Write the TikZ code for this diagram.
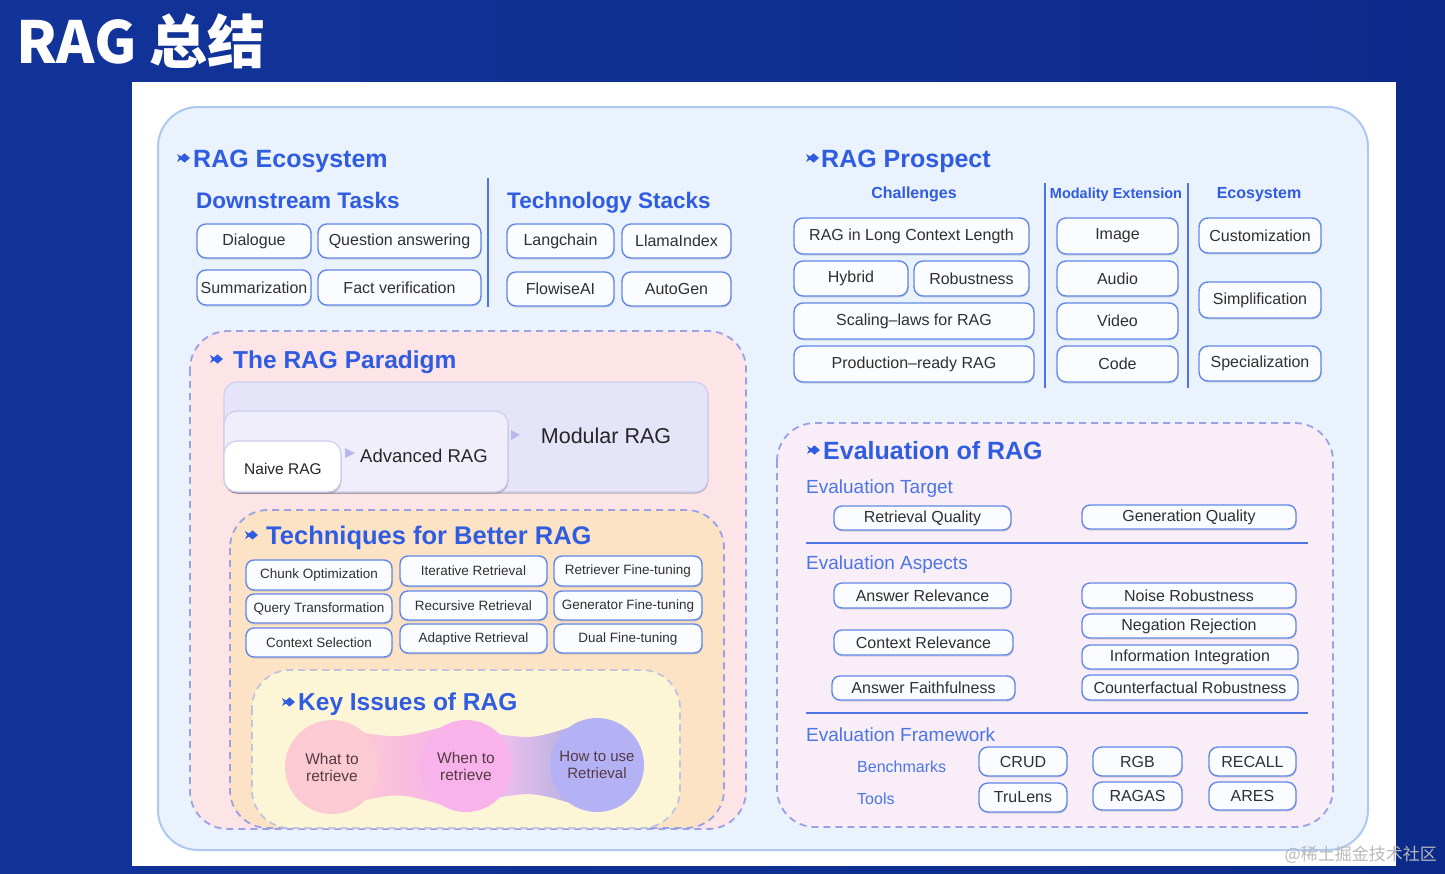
\documentclass[tikz,border=0pt]{standalone}
\usepackage{fontspec}
\setmainfont{Liberation Sans}
\newfontfamily\cjk{Noto Sans CJK SC}
\usetikzlibrary{shadows,calc}
\definecolor{bgA}{HTML}{12349A}
\definecolor{bgB}{HTML}{0C2A8A}
\definecolor{hcol}{HTML}{2F5CE0}
\definecolor{scol}{HTML}{4A76E6}
\definecolor{bxd}{HTML}{6388E6}
\definecolor{bxf}{HTML}{FAFCFF}
\definecolor{txt}{HTML}{303030}
\definecolor{ecof}{HTML}{E9F2FD}
\definecolor{ecod}{HTML}{AEC8F1}
\definecolor{dashd}{HTML}{98A2E4}
\definecolor{pinkf}{HTML}{FDE4E7}
\definecolor{peachf}{HTML}{FCE3C5}
\definecolor{yelf}{HTML}{FCF6D6}
\definecolor{evalf}{HTML}{F9EDF8}
\definecolor{modf}{HTML}{E5E4F8}
\definecolor{advf}{HTML}{EFEEFA}
\definecolor{parD}{HTML}{CDCDF0}
\definecolor{triC}{HTML}{B9B8EA}
\definecolor{cA}{HTML}{FCCAD2}
\definecolor{cB}{HTML}{F7B3EA}
\definecolor{cC}{HTML}{B4B2F4}
\definecolor{ctx}{HTML}{553A45}
\definecolor{vline}{HTML}{4C74E2}
\pgfdeclarelayer{mid}
\pgfdeclarelayer{front}
\pgfsetlayers{main,mid,front}
\newcommand\bxx[7][]{%
  \pgfmathsetmacro\bw{#5-#3}\pgfmathsetmacro\bh{#6-#4}%
  \node[bx,#1,minimum width=\bw pt,minimum height=\bh pt] (#2) at ({(#3+#5)/2},{(#4+#6)/2}) {#7};}
\begin{document}
\begin{tikzpicture}[x=1pt,y=-1pt,
  bx/.style={draw=bxd, line width=1.4pt, fill=bxf, rounded corners=9pt, inner sep=1pt, text=txt,
    font=\fontsize{16}{18}\selectfont,
    drop shadow={shadow xshift=0.6pt,shadow yshift=-1.6pt,opacity=0.18,fill=black!70}},
  tb/.style={font=\fontsize{13.5}{15}\selectfont, rounded corners=8pt},
  eb/.style={rounded corners=8pt},
  pbox/.style={draw=parD, line width=1.2pt, rounded corners=13pt, text=txt,
    drop shadow={shadow xshift=0.6pt,shadow yshift=-1.8pt,opacity=0.15,fill=black!70}},
  hd/.style={anchor=base west, text=hcol, font=\bfseries\fontsize{25}{28}\selectfont, inner sep=0pt},
  sub/.style={anchor=base west, text=hcol, font=\bfseries\fontsize{22.5}{25}\selectfont, inner sep=0pt},
  esub/.style={anchor=base west, text=scol, font=\fontsize{19}{22}\selectfont, inner sep=0pt},
  csub/.style={anchor=base, text=hcol, font=\bfseries\fontsize{16}{18}\selectfont, inner sep=0pt},
  dbox/.style={draw=dashd, line width=1.8pt, dash pattern=on 7pt off 5pt, rounded corners=38pt},
  vdiv/.style={draw=vline, line width=2pt},
  sep/.style={draw=vline, line width=2.4pt},
  hmark/.pic={\fill[hcol] (0,-4) -- (4,-1.6) -- (7.5,-4.6) -- (13,0) -- (7.5,4.6) -- (4,1.6) -- (0,4) -- (2,0) -- cycle;},
  ctext/.style={align=center, text=ctx, font=\fontsize{15.5}{17}\selectfont, inner sep=0pt}
]
\useasboundingbox (0,0) rectangle (1445,873);
% background
\shade[left color=bgA, right color=bgB] (0,0) rectangle (1445,873);
\node[anchor=base west, font=\cjk\bfseries\fontsize{58}{58}\selectfont, text=white, inner sep=0pt] (title) at (16,63) {RAG 总结};
\fill[white] (132,82) rectangle (1396,866);
% outer ecosystem box
\draw[draw=ecod, fill=ecof, line width=2pt, rounded corners=40pt] (158,107) rectangle (1368,850);

% ---------------- RAG Ecosystem
\pic at (177,158) {hmark};
\node[hd] (ecoh) at (193,167) {RAG Ecosystem};
\node[sub] (dsh) at (196,208) {Downstream Tasks};
\node[sub] (tsh) at (507,208) {Technology Stacks};
\draw[vdiv] (488,178) -- (488,307);
\bxx{dlg}{197}{224}{311}{258}{Dialogue}
\bxx{qa}{318}{224}{481}{258}{Question answering}
\bxx{summ}{197}{270}{311}{305}{Summarization}
\bxx{fact}{318}{270}{481}{305}{Fact verification}
\bxx{lang}{507}{224}{614}{258}{Langchain}
\bxx{llama}{622}{224}{731}{258}{LlamaIndex}
\bxx{flow}{507}{272}{614}{306}{FlowiseAI}
\bxx{autog}{622}{272}{731}{306}{AutoGen}

% ---------------- RAG Prospect
\pic at (806,158) {hmark};
\node[hd] (proh) at (821,167) {RAG Prospect};
\node[csub] (chal) at (914,198) {Challenges};
\node[csub, font=\bfseries\fontsize{14.5}{16}\selectfont] (modx) at (1116,198) {Modality Extension};
\node[csub] (ecs) at (1259,198) {Ecosystem};
\draw[vdiv] (1045,183) -- (1045,388);
\draw[vdiv] (1188,183) -- (1188,388);
\bxx{longc}{794}{218}{1029}{254}{RAG in Long Context Length}
\bxx{hyb}{794}{261}{908}{296}{Hybrid}
\bxx{robu}{914}{261}{1029}{296}{Robustness}
\bxx{scal}{794}{303}{1034}{339}{Scaling–laws for RAG}
\bxx{prod}{794}{346}{1034}{382}{Production–ready RAG}
\bxx{img}{1057}{218}{1178}{254}{Image}
\bxx{aud}{1057}{261}{1178}{296}{Audio}
\bxx{vid}{1057}{303}{1178}{339}{Video}
\bxx{code}{1057}{346}{1178}{382}{Code}
\bxx{cust}{1199}{218}{1321}{253}{Customization}
\bxx{simp}{1199}{282}{1321}{318}{Simplification}
\bxx{spec}{1199}{346}{1321}{381}{Specialization}

% ---------------- The RAG Paradigm
\draw[dbox, fill=pinkf] (190,331) rectangle (746,829);
\pic at (210,359) {hmark};
\node[hd, font=\bfseries\fontsize{24.5}{28}\selectfont] (parh) at (233,368) {The RAG Paradigm};
\bxx[pbox, fill=modf]{modb}{224}{382}{708}{492}{}
\bxx[pbox, fill=advf]{advb}{224}{411}{508}{492}{}
\bxx[pbox, fill=white]{naib}{224}{441}{341}{492}{}
\node[anchor=base, text=black!85, font=\fontsize{21.5}{24}\selectfont, inner sep=0pt] (modt) at (606,443) {Modular RAG};
\node[anchor=base, text=black!85, font=\fontsize{18.5}{21}\selectfont, inner sep=0pt] (advt) at (424,462) {Advanced RAG};
\node[anchor=base, text=black!85, font=\fontsize{15.5}{18}\selectfont, inner sep=0pt] (nait) at (283,474) {Naive RAG};
\fill[triC] (345,448) -- (355,453) -- (345,458) -- cycle;
\fill[triC] (511,430) -- (520,435) -- (511,440) -- cycle;

% ---------------- Techniques
\draw[dbox, fill=peachf] (230,510) rectangle (724,828);
\pic at (245,535) {hmark};
\node[hd, font=\bfseries\fontsize{25.5}{28}\selectfont] (tech) at (266,544) {Techniques for Better RAG};
\bxx[tb]{chunk}{246}{560}{392}{590}{Chunk Optimization}
\bxx[tb]{query}{246}{594}{392}{623}{Query Transformation}
\bxx[tb]{ctxs}{246}{628}{392}{657}{Context Selection}
\bxx[tb]{iter}{400}{556}{547}{586}{Iterative Retrieval}
\bxx[tb]{recu}{400}{591}{547}{620}{Recursive Retrieval}
\bxx[tb]{adap}{400}{624}{547}{653}{Adaptive Retrieval}
\bxx[tb]{retf}{554}{556}{702}{586}{Retriever Fine-tuning}
\bxx[tb]{genf}{554}{591}{702}{620}{Generator Fine-tuning}
\bxx[tb]{dualf}{554}{624}{702}{653}{Dual Fine-tuning}

% ---------------- Key Issues
\draw[dbox, draw=dashd!60!yelf, fill=yelf] (252,670) rectangle (680,828);
\pic at (282,702) {hmark};
\node[hd, font=\bfseries\fontsize{24.5}{28}\selectfont] (keyh) at (298,710) {Key Issues of RAG};
\begin{pgfonlayer}{front}
\node[circle, fill=cA, minimum size=94pt, ctext] (c1) at (332,767) {What to\\retrieve};
\node[circle, fill=cB, minimum size=92pt, ctext] (c2) at (466,766) {When to\\retrieve};
\node[circle, fill=cC, minimum size=94pt, ctext, font=\fontsize{15}{16.5}\selectfont] (c3) at (597,765) {How to use\\Retrieval};
\end{pgfonlayer}
\begin{pgfonlayer}{mid}
\shade[left color=cA, right color=cB]
  ($(c1.center)+(20,-36)$) .. controls ($(c1.center)!0.5!(c2.center)+(0,-28)$) .. ($(c2.center)+(-20,-40)$)
  -- ($(c2.center)+(-20,40)$) .. controls ($(c1.center)!0.5!(c2.center)+(0,26)$) .. ($(c1.center)+(20,36)$) -- cycle;
\shade[left color=cB!80!white, right color=cC!80!gray!90!white]
  ($(c2.center)+(20,-34)$) .. controls ($(c2.center)!0.5!(c3.center)+(0,-26)$) .. ($(c3.center)+(-20,-40)$)
  -- ($(c3.center)+(-20,40)$) .. controls ($(c2.center)!0.5!(c3.center)+(0,26)$) .. ($(c2.center)+(20,34)$) -- cycle;
\end{pgfonlayer}

% ---------------- Evaluation of RAG
\draw[dbox, fill=evalf] (777,423) rectangle (1333,827);
\pic at (807,450) {hmark};
\node[hd] (evh) at (823,459) {Evaluation of RAG};
\node[esub] (evt) at (806,493) {Evaluation Target};
\bxx[eb]{retq}{834}{506}{1011}{530}{Retrieval Quality}
\bxx[eb]{genq}{1082}{505}{1296}{529}{Generation Quality}
\draw[sep] (806,543) -- (1308,543);
\node[esub] (eva) at (806,569) {Evaluation Aspects};
\bxx[eb]{ansr}{834}{583}{1011}{608}{Answer Relevance}
\bxx[eb]{ctxr}{834}{630}{1013}{655}{Context Relevance}
\bxx[eb]{ansf}{832}{676}{1015}{700}{Answer Faithfulness}
\bxx[eb]{noise}{1082}{583}{1296}{608}{Noise Robustness}
\bxx[eb]{neg}{1082}{614}{1296}{638}{Negation Rejection}
\bxx[eb]{info}{1082}{645}{1298}{669}{Information Integration}
\bxx[eb]{cfr}{1082}{675}{1298}{700}{Counterfactual Robustness}
\draw[sep] (806,713) -- (1308,713);
\node[esub] (evf) at (806,741) {Evaluation Framework};
\node[esub, font=\fontsize{16}{18}\selectfont] (bench) at (857,772) {Benchmarks};
\node[esub, font=\fontsize{16}{18}\selectfont] (tools) at (857,804) {Tools};
\bxx{crud}{979}{747}{1067}{776}{CRUD}
\bxx{rgb}{1093}{747}{1182}{776}{RGB}
\bxx{recall}{1209}{747}{1296}{776}{RECALL}
\bxx{trul}{979}{783}{1067}{812}{TruLens}
\bxx{ragas}{1093}{782}{1182}{810}{RAGAS}
\bxx{ares}{1209}{782}{1296}{810}{ARES}

% watermark
\node[anchor=east, font=\cjk\fontsize{17}{17}\selectfont, text=gray!55, inner sep=0pt] (wm) at (1437,855) {@稀土掘金技术社区};
\end{tikzpicture}
\end{document}
